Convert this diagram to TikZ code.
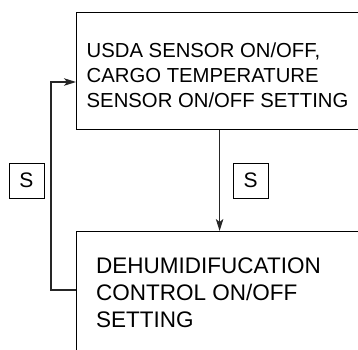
\documentclass[tikz,border=0pt]{standalone}
\usepackage{fontspec}
\setmainfont{Liberation Sans}
\usetikzlibrary{arrows.meta}
\begin{document}
\begin{tikzpicture}[x=1pt,y=-1pt,
  box/.style={draw=black, line width=1.2pt, rectangle, inner sep=0pt},
  sbox/.style={draw=black, line width=1pt, rectangle, inner sep=0pt, minimum width=35pt, minimum height=35pt, font=\fontsize{21}{21}\selectfont},
  conn/.style={draw=black!85, line width=1.2pt},
  arr/.style={conn, -{Stealth[length=12pt,width=7.5pt,inset=3pt]}},
  txt/.style={anchor=north west, inner sep=0pt, align=left}]
\useasboundingbox (0,0) rectangle (358,349);
\clip (0,0) rectangle (358,349);
\node[box, anchor=north west, minimum width=286pt, minimum height=117pt] (top) at (76,12) {};
\node[box, anchor=north west, minimum width=286pt, minimum height=140pt] (bot) at (76,231) {};
\node[txt, font=\fontsize{20.3}{25}\selectfont] (toptxt) at (86.5,42.5) {USDA SENSOR ON/OFF,\\CARGO TEMPERATURE\\SENSOR ON/OFF SETTING};
\node[txt, font=\fontsize{22.5}{27}\selectfont] (bottxt) at (96,257.5) {DEHUMIDIFUCATION\\CONTROL ON/OFF\\SETTING};
\node[sbox] (s1) at (26.5,180.5) {S};
\node[sbox] (s2) at (250.5,180.5) {S};
\draw[arr] (top.south) -- (bot.north);
\draw[arr] ([yshift=-59pt]bot.north west) -- ++(-25,0) |- ([yshift=-70pt]top.north west);
\end{tikzpicture}
\end{document}
